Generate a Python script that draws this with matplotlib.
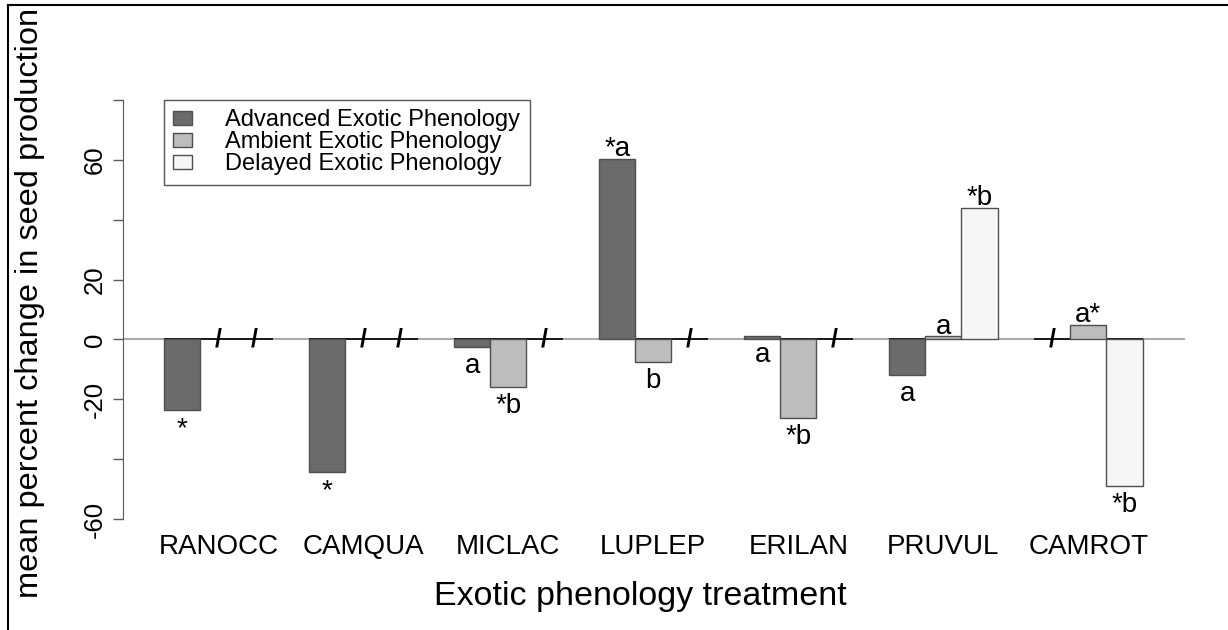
import matplotlib
matplotlib.use("Agg")
import matplotlib.pyplot as plt
from matplotlib.lines import Line2D

plt.rcParams["font.family"] = ["Liberation Sans", "DejaVu Sans"]

# --- data ---
species = ["RANOCC", "CAMQUA", "MICLAC", "LUPLEP", "ERILAN", "PRUVUL", "CAMROT"]
series = ["Advanced Exotic Phenology", "Ambient Exotic Phenology", "Delayed Exotic Phenology"]
advanced = [-23.6, -44.3, -2.5, 60.3, 1.2, -11.9, None]
ambient = [None, None, -15.9, -7.5, -26.2, 1.0, 4.8]
delayed = [None, None, None, None, None, 43.9, -48.9]
advanced_lab = ["*", "*", "a", "*a", "a", "a", ""]
ambient_lab = ["", "", "*b", "b", "*b", "a", "a*"]
delayed_lab = ["", "", "", "", "", "*b", "*b"]
# +1 = letter above bar end, -1 = below
advanced_side = [-1, -1, -1, 1, -1, -1, 0]
ambient_side = [0, 0, -1, -1, -1, 1, 1]
delayed_side = [0, 0, 0, 0, 0, 1, -1]
yticks = [-60, -40, -20, 0, 20, 40, 60, 80]
ytick_labels = ["-60", "", "-20", "0", "20", "", "60", ""]

colors = ["#6b6b6b", "#bdbdbd", "#f6f6f6"]

W, H = 1228, 630
fig = plt.figure(figsize=(W / 100, H / 100), dpi=100)
ax = fig.add_axes([123 / W, 1 - 537 / H, (1185 - 123) / W, (537 - 82) / H])

ax.axhline(0, color="#9a9a9a", lw=1.2, zorder=1)

all_vals = [advanced, ambient, delayed]
all_labs = [advanced_lab, ambient_lab, delayed_lab]
all_sides = [advanced_side, ambient_side, delayed_side]
for k, (vals, labs, sides) in enumerate(zip(all_vals, all_labs, all_sides)):
    xs = [4 * g + 1 + k for g, v in enumerate(vals) if v is not None]
    ys = [v for v in vals if v is not None]
    ax.bar(xs, ys, width=1, align="edge", color=colors[k], edgecolor="#4f4f4f",
           linewidth=1, label=series[k], zorder=3)
    for g, v in enumerate(vals):
        cx = 4 * g + 1.5 + k
        if v is None:
            # missing treatment: slash on the zero line
            ax.text(cx, 0, "/", ha="center", va="center", fontsize=18,
                    fontweight="bold", zorder=4)
            continue
        off = 2.0 if sides[g] > 0 else -18.5
        ax.annotate(labs[g], (cx, v), xytext=(0, off), textcoords="offset points",
                    ha="center", va="baseline", fontsize=20, zorder=4)

for g in range(len(species)):
    ax.hlines(0, 4 * g + 1, 4 * g + 4, color="black", lw=1.2, zorder=2)

ax.set_xlim(-0.131, 29.166)
ax.set_ylim(-66.0, 86.0)

for s in ["top", "right", "bottom"]:
    ax.spines[s].set_visible(False)
ax.spines["left"].set_bounds(-60, 80)
ax.spines["left"].set_color("#5a5a5a")
ax.set_yticks(yticks)
ax.set_yticklabels(ytick_labels, rotation=90, va="center", fontsize=18.5)
ax.tick_params(axis="y", length=7.5, width=1, color="#5a5a5a", pad=4)

ax.set_xticks([4 * g + 2.5 for g in range(len(species))])
ax.set_xticklabels(species, fontsize=20)
ax.tick_params(axis="x", length=0, pad=-2.5)

leg = ax.legend(loc="upper left", bbox_to_anchor=(164 / W, 1 - 100 / H),
                bbox_transform=fig.transFigure, borderaxespad=0, fontsize=17,
                handlelength=0.8, handleheight=0.5, handletextpad=1.4,
                borderpad=0.4, labelspacing=0.0, fancybox=False, framealpha=1)
leg.get_frame().set_edgecolor("#555555")
leg.get_frame().set_linewidth(1)

fig.text(640 / W, 1 - 605 / H, "Exotic phenology treatment", ha="center",
         va="baseline", fontsize=24.5)
fig.text(30 / W, 1 - 303 / H, "mean percent change in seed production",
         rotation=90, ha="center", va="center", fontsize=23.4)

# frame around the picture (only top and left edges are visible)
fig.add_artist(Line2D([7.5 / W, 1], [1 - 4.5 / H] * 2, color="black", lw=1.5))
fig.add_artist(Line2D([7.5 / W] * 2, [0, 1 - 4.5 / H], color="black", lw=1.5))

fig.savefig("out.png", dpi=100)
